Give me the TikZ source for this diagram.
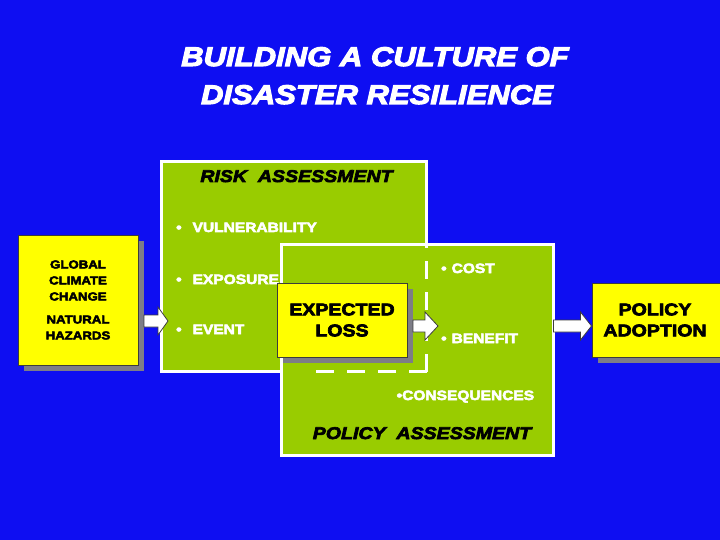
\documentclass[tikz,border=0pt]{standalone}
\usepackage{fontspec}
\setmainfont{Liberation Sans}
\newfontfamily\heavy{Liberation Sans Bold}[FakeStretch=1.15, FakeBold=4]
\newfontfamily\heavyit{Liberation Sans Bold Italic}[FakeStretch=1.15, FakeBold=4]
\usetikzlibrary{shadows,calc}
\definecolor{bg}{RGB}{14,14,242}
\definecolor{lgreen}{RGB}{153,204,0}
\definecolor{yel}{RGB}{255,255,0}
\definecolor{shade}{RGB}{125,125,135}
\definecolor{edge}{RGB}{60,60,60}
\tikzset{
  panel/.style={draw=white, line width=3pt, fill=lgreen, inner sep=0pt, outer sep=0pt, rectangle},
  hidden/.style={draw=white, line width=3pt, dash pattern=on 18pt off 13pt},
  ybox/.style={draw=edge, line width=0.7pt, fill=yel, inner sep=0pt, outer sep=0pt, align=center,
    drop shadow={shadow xshift=6pt, shadow yshift=-6pt, fill=shade, opacity=1}},
  ttl/.style={font=\heavyit\fontsize{27}{38}\selectfont, text=white, anchor=base, inner sep=0pt},
  ptitle/.style={font=\heavyit\fontsize{17}{20}\selectfont, text=black, anchor=base, inner sep=0pt},
  bullet/.style={font=\heavy\fontsize{13.5}{16}\selectfont, text=white, anchor=base west, inner sep=0pt},
  smalltxt/.style={font=\heavy\fontsize{11.5}{16}\selectfont, text=black},
  bigtxt/.style={font=\heavy\fontsize{17}{21}\selectfont, text=black},
  barrow/.style={draw=edge, line width=0.8pt, fill=white, line join=miter}
}
\newcommand\blockarrow[3]{\draw[barrow] (#1) ++(0,-6) -- ++(#2,0) -- ++(0,-8) -- ++(#3,14) -- ++(-#3,14) -- ++(0,-8) -- ++(-#2,0) -- cycle;}
\begin{document}
\begin{tikzpicture}[x=1pt,y=-1pt]
\clip (0,0) rectangle (720,540);
\fill[bg] (0,0) rectangle (720,540);

% title
\node[ttl] (t1) at (375,66) {BUILDING A CULTURE OF};
\node[ttl] (t2) at (377,104) {DISASTER RESILIENCE};

% risk assessment panel
\node[panel, minimum width=265pt, minimum height=210pt] (risk) at (294,266.5) {};
\node[ptitle] (risktitle) at (296.5,182) {RISK\ \ ASSESSMENT};
\node[bullet] (vul) at (176,232) {•\hspace{11pt}VULNERABILITY};
\node[bullet] (exp) at (176,284) {•\hspace{11pt}EXPOSURE};
\node[bullet] (evt) at (176,334) {•\hspace{11pt}EVENT};

% policy assessment panel
\node[panel, minimum width=272pt, minimum height=211pt] (pol) at (417.5,350) {};
\draw[hidden] (risk.south east) -- (risk.east |- pol.north);
\draw[hidden] (risk.south east) -- ($(pol.west |- risk.south)+(28,0)$);
\node[bullet] (cost) at (441,273) {•\hspace{5pt}COST};
\node[bullet] (ben) at (441,343) {•\hspace{5pt}BENEFIT};
\node[bullet] (cons) at (396.5,400) {•CONSEQUENCES};
\node[ptitle] (poltitle) at (422,439) {POLICY\ \ ASSESSMENT};

% yellow boxes
\node[ybox, smalltxt, minimum width=120pt, minimum height=130pt] (gl) at (78,300)
  {GLOBAL\\CLIMATE\\CHANGE\\[7pt]NATURAL\\HAZARDS};
\node[ybox, bigtxt, minimum width=130pt, minimum height=74pt] (el) at (342,320) {EXPECTED\\LOSS};
\node[ybox, minimum width=134pt, minimum height=74pt] (adopt) at (659,320) {};
\node[bigtxt, align=center, inner sep=0pt] (adopttxt) at (655,320) {POLICY\\ADOPTION};

% block arrows
\coordinate (a1) at ($(gl.east)+(6,21)$);
\coordinate (a2) at ($(el.east)+(6,6)$);
\coordinate (a3) at ($(pol.east)+(0,-24)$);
\blockarrow{a1}{14}{10}
\blockarrow{a2}{12}{13}
\blockarrow{a3}{27}{11}
\end{tikzpicture}
\end{document}
